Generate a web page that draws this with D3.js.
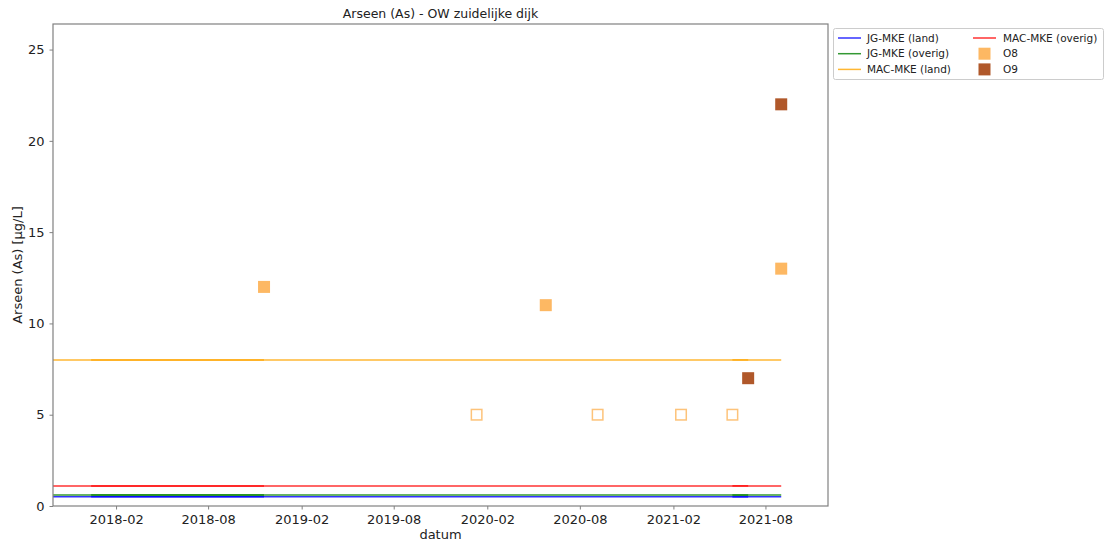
<!DOCTYPE html>
<html>
<head>
<meta charset="utf-8">
<script src="https://cdn.jsdelivr.net/npm/d3@7"></script>
<style>
  body { margin: 0; background: #fff; }
  svg { font-family: "DejaVu Sans", sans-serif; }
</style>
</head>
<body>
<svg id="chart" width="1111" height="542"></svg>
<script>
// Norm levels (µg/L)
const normNames  = ["JG-MKE (land)", "JG-MKE (overig)", "MAC-MKE (land)", "MAC-MKE (overig)"];
const normValues = [0.5, 0.6, 8, 1.1];
const normColors = ["blue", "green", "orange", "red"];

// Date spans over which the norm lines are drawn (overlapping spans show darker)
const normSpanStart = ["2017-09-01", "2017-12-14", "2021-05-28"];
const normSpanEnd   = ["2021-09-01", "2018-11-19", "2021-06-28"];

// Measurements per location; open markers are below the reporting limit
const o8Dates  = ["2018-11-19", "2020-01-11", "2020-05-26", "2020-09-05", "2021-02-16", "2021-05-28", "2021-09-01"];
const o8Values = [12, 5, 11, 5, 5, 5, 13];
const o8Below  = [false, true, false, true, true, true, false];
const o9Dates  = ["2021-06-28", "2021-09-01"];
const o9Values = [7, 22];
const o9Below  = [false, false];

const xTicks = ["2018-02-01", "2018-08-01", "2019-02-01", "2019-08-01", "2020-02-01", "2020-08-01", "2021-02-01", "2021-08-01"];
const yTicks = [0, 5, 10, 15, 20, 25];

const parse = d3.utcParse("%Y-%m-%d");
const fmt = d3.utcFormat("%Y-%m");

const svg = d3.select("#chart");
const L = 53, R = 828, T = 24, B = 506;

const x = d3.scaleUtc().domain([parse("2017-09-30"), parse("2021-12-02")]).range([L, R]);
const y = d3.scaleLinear().domain([0, 26.4]).range([B, T]);

svg.append("defs").append("clipPath").attr("id", "plotclip")
  .append("rect").attr("x", L).attr("y", T).attr("width", R - L).attr("height", B - T);

const plot = svg.append("g").attr("clip-path", "url(#plotclip)");

// Norm lines
const lineOpacity = 0.8;
normValues.forEach((v, i) => {
  normSpanStart.forEach((s, j) => {
    plot.append("line")
      .attr("x1", x(parse(s))).attr("x2", x(parse(normSpanEnd[j])))
      .attr("y1", y(v)).attr("y2", y(v))
      .attr("stroke", normColors[i]).attr("stroke-width", 1.5)
      .attr("stroke-opacity", lineOpacity);
  });
});

// Markers
const series = [
  { name: "O8", dates: o8Dates, values: o8Values, below: o8Below, color: "#fdb863" },
  { name: "O9", dates: o9Dates, values: o9Values, below: o9Below, color: "#b0582a" }
];
const ms = 12;
series.forEach(s => {
  s.dates.forEach((d, i) => {
    const cx = x(parse(d)), cy = y(s.values[i]);
    if (s.below[i]) {
      plot.append("rect")
        .attr("x", cx - (ms - 1.5) / 2).attr("y", cy - (ms - 1.5) / 2)
        .attr("width", ms - 1.5).attr("height", ms - 1.5)
        .attr("fill", "none").attr("stroke", s.color).attr("stroke-width", 1.5)
        .attr("stroke-opacity", 0.85);
    } else {
      plot.append("rect")
        .attr("x", cx - ms / 2).attr("y", cy - ms / 2)
        .attr("width", ms).attr("height", ms)
        .attr("fill", s.color);
    }
  });
});

// Axes
const axisColor = "#808080";
const xAxis = svg.append("g").attr("transform", `translate(0,${B})`)
  .call(d3.axisBottom(x).tickValues(xTicks.map(parse)).tickFormat(fmt).tickSizeOuter(0).tickSize(3.5).tickPadding(5));
const yAxis = svg.append("g").attr("transform", `translate(${L},0)`)
  .call(d3.axisLeft(y).tickValues(yTicks).tickSizeOuter(0).tickSize(3.5).tickPadding(5));
[xAxis, yAxis].forEach(a => {
  a.select(".domain").remove();
  a.selectAll(".tick line").attr("stroke", axisColor);
  a.selectAll(".tick text").attr("fill", "#222").style("font-size", "13px").style("font-family", "DejaVu Sans");
});

// Frame
svg.append("rect").attr("x", L).attr("y", T).attr("width", R - L).attr("height", B - T)
  .attr("fill", "none").attr("stroke", axisColor).attr("stroke-width", 1.2);

// Titles
svg.append("text").attr("x", (L + R) / 2).attr("y", 18).attr("text-anchor", "middle")
  .style("font-size", "12.5px").attr("fill", "#222").text("Arseen (As) - OW zuidelijke dijk");
svg.append("text").attr("x", (L + R) / 2).attr("y", 539).attr("text-anchor", "middle")
  .style("font-size", "13px").attr("fill", "#222").text("datum");
svg.append("text").attr("transform", `translate(22,${(T + B) / 2}) rotate(-90)`)
  .attr("text-anchor", "middle").style("font-size", "13px").attr("fill", "#222").text("Arseen (As) [µg/L]");

// Legend
const lg = svg.append("g");
lg.append("rect").attr("x", 833.5).attr("y", 28.5).attr("width", 270).attr("height", 51).attr("rx", 2)
  .attr("fill", "#fff").attr("stroke", "#ccc").attr("stroke-width", 1);
const entries = [
  { label: normNames[0], type: "line", color: normColors[0] },
  { label: normNames[1], type: "line", color: normColors[1] },
  { label: normNames[2], type: "line", color: normColors[2] },
  { label: normNames[3], type: "line", color: normColors[3] },
  { label: series[0].name, type: "mark", color: series[0].color },
  { label: series[1].name, type: "mark", color: series[1].color }
];
entries.forEach((e, i) => {
  const col = Math.floor(i / 3), row = i % 3;
  const x0 = col === 0 ? 838 : 973;
  const tx = col === 0 ? 867 : 1003;
  const cy = 38 + row * 15.7;
  if (e.type === "line") {
    lg.append("line").attr("x1", x0).attr("x2", x0 + 23).attr("y1", cy).attr("y2", cy)
      .attr("stroke", e.color).attr("stroke-width", 1.5).attr("stroke-opacity", lineOpacity);
  } else {
    lg.append("rect").attr("x", x0 + 11.5 - 6).attr("y", cy - 6).attr("width", 12).attr("height", 12)
      .attr("fill", e.color);
  }
  lg.append("text").attr("x", tx).attr("y", cy + 3.7).style("font-size", "10.5px").attr("fill", "#222").text(e.label);
});
</script>
</body>
</html>
